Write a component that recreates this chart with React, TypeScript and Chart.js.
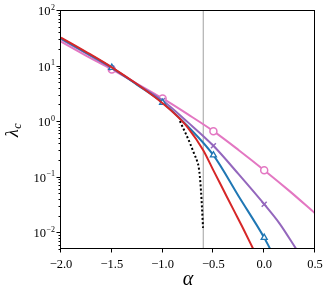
import React, { useEffect, useRef } from "react";
import { Chart, registerables } from "chart.js";

Chart.register(...registerables);

// ---- data ----
const alphaRed = [-2, -1.75, -1.5, -1.25, -1, -0.85, -0.75, -0.6, -0.5, -0.4, -0.3, -0.2, -0.108];
const lambdaRed = [32, 17.5, 9.3, 4.6, 2.1, 1.2, 0.76, 0.3, 0.13, 0.057, 0.025, 0.011, 0.005];

const alphaBlue = [-2, -1.75, -1.5, -1.25, -1, -0.75, -0.5, -0.25, 0, 0.059];
const lambdaBlue = [31, 17, 9.2, 4.5, 2.15, 0.8, 0.244, 0.044, 0.008, 0.005];

const alphaPurple = [-2, -1.75, -1.5, -1.25, -1, -0.75, -0.5, -0.25, 0, 0.15, 0.315];
const lambdaPurple = [30, 16.5, 9, 4.6, 2.35, 0.95, 0.36, 0.11, 0.032, 0.0145, 0.005];

const alphaPink = [-2, -1.75, -1.5, -1.25, -1, -0.75, -0.5, -0.25, 0, 0.25, 0.5];
const lambdaPink = [27, 15, 8.5, 4.7, 2.56, 1.32, 0.66, 0.3, 0.131, 0.055, 0.022];

const alphaDotted = [-0.83, -0.78, -0.73, -0.69, -0.66, -0.645, -0.633, -0.622, -0.612, -0.602];
const lambdaDotted = [1.0, 0.64, 0.4, 0.26, 0.19, 0.15, 0.1, 0.055, 0.027, 0.012];

const alphaVline = [-0.6, -0.6];
const lambdaVline = [0.005, 100];

const markerAlphas = [-1.5, -1, -0.5, 0];

const xTicks = [-2, -1.5, -1, -0.5, 0, 0.5];
const xTickLabels = ["\u22122.0", "\u22121.5", "\u22121.0", "\u22120.5", "0.0", "0.5"];
const yTickExponents = [-2, -1, 0, 1, 2];

const X_MIN = -2;
const X_MAX = 0.5;
const Y_MIN = 0.005;
const Y_MAX = 100;

function pts(xs: number[], ys: number[]) {
  return xs.map((x, i) => ({ x, y: ys[i] }));
}

const SERIF = '"Liberation Serif", "DejaVu Serif", serif';

const decorPlugin = {
  id: "decor",
  afterDraw(chart: any) {
    const { ctx, chartArea: ca, scales } = chart;
    const xs = scales.x;
    const ys = scales.y;
    ctx.save();
    // frame
    ctx.strokeStyle = "#000";
    ctx.lineWidth = 1;
    const l = Math.round(ca.left) - 0.5;
    const r = Math.round(ca.right) - 0.5;
    const t = Math.round(ca.top) + 0.5;
    const b = Math.round(ca.bottom) - 0.5;
    ctx.strokeRect(l, t, r - l, b - t);

    // x ticks
    ctx.beginPath();
    xTicks.forEach((v) => {
      const px = Math.round(xs.getPixelForValue(v)) - 0.5;
      ctx.moveTo(px, b);
      ctx.lineTo(px, b + 4);
    });
    // y ticks major + minor
    for (let d = -3; d <= 2; d++) {
      for (let m = 1; m <= 9; m++) {
        const v = m * Math.pow(10, d);
        if (v < Y_MIN * 0.999 || v > Y_MAX * 1.001) continue;
        const py = Math.round(ys.getPixelForValue(v)) + 0.5;
        ctx.moveTo(l, py);
        ctx.lineTo(l - (m === 1 ? 4 : 2), py);
      }
    }
    ctx.stroke();

    ctx.fillStyle = "#000";
    // x labels
    ctx.font = `12.5px ${SERIF}`;
    ctx.textAlign = "center";
    ctx.textBaseline = "alphabetic";
    xTicks.forEach((v, i) => {
      const px = xs.getPixelForValue(v);
      ctx.fillText(xTickLabels[i], px, ca.bottom + 18.5);
    });

    // y labels 10^e
    yTickExponents.forEach((e) => {
      const py = ys.getPixelForValue(Math.pow(10, e));
      const sup = e < 0 ? "\u2212" + Math.abs(e) : String(e);
      ctx.font = `8px ${SERIF}`;
      const sw = ctx.measureText(sup).width;
      ctx.textAlign = "left";
      const right = 55;
      ctx.fillText(sup, right - sw, py - 0.5);
      ctx.font = `12.5px ${SERIF}`;
      ctx.textAlign = "right";
      ctx.fillText("10", right - sw - 0.5, py + 5);
    });

    // x title
    ctx.font = `italic 20px ${SERIF}`;
    ctx.textAlign = "center";
    ctx.fillText("\u03b1", (ca.left + ca.right) / 2, 285);

    // y title lambda_c rotated
    ctx.save();
    ctx.translate(0, 137);
    ctx.rotate(-Math.PI / 2);
    ctx.textAlign = "left";
    ctx.font = `italic 18px ${SERIF}`;
    ctx.fillText("\u03bb", 0, 18);
    const lw = ctx.measureText("\u03bb").width;
    ctx.font = `italic 12px ${SERIF}`;
    ctx.fillText("c", lw + 0.5, 21);
    ctx.restore();

    ctx.restore();
  },
};

export default function App() {
  const ref = useRef<HTMLCanvasElement | null>(null);
  useEffect(() => {
    if (!ref.current) return;
    const markerRadius = (c: any) => {
      const raw = c.raw;
      return raw && markerAlphas.includes(raw.x) ? 3.5 : 0;
    };
    const chart = new Chart(ref.current, {
      type: "line",
      data: {
        datasets: [
          {
            data: pts(alphaRed, lambdaRed),
            borderColor: "#d62728",
            borderWidth: 2,
            pointRadius: 0,
            cubicInterpolationMode: "monotone",
          },
          {
            data: pts(alphaDotted, lambdaDotted),
            borderColor: "#000",
            borderWidth: 2,
            borderDash: [2, 2.2],
            pointRadius: 0,
            cubicInterpolationMode: "monotone",
          },
          {
            data: pts(alphaBlue, lambdaBlue),
            borderColor: "#1f77b4",
            borderWidth: 2,
            pointRadius: markerRadius,
            pointStyle: "triangle",
            pointBorderColor: "#1f77b4",
            pointBackgroundColor: "#ffffff",
            pointBorderWidth: 1.3,
            cubicInterpolationMode: "monotone",
          },
          {
            data: pts(alphaPurple, lambdaPurple),
            borderColor: "#9467bd",
            borderWidth: 2,
            pointRadius: markerRadius,
            pointStyle: "crossRot",
            pointBorderColor: "#9467bd",
            pointBorderWidth: 1.5,
            cubicInterpolationMode: "monotone",
          },
          {
            data: pts(alphaPink, lambdaPink),
            borderColor: "#e377c2",
            borderWidth: 2,
            pointRadius: markerRadius,
            pointStyle: "circle",
            pointBorderColor: "#e377c2",
            pointBackgroundColor: "#ffffff",
            pointBorderWidth: 1.5,
            cubicInterpolationMode: "monotone",
          },
          {
            data: pts(alphaVline, lambdaVline),
            borderColor: "#a0a0a0",
            borderWidth: 1,
            pointRadius: 0,
          },
        ],
      } as any,
      options: {
        animation: false,
        responsive: false,
        layout: { padding: { left: 61, top: 10, right: 17, bottom: 42 } },
        scales: {
          x: { type: "linear", min: X_MIN, max: X_MAX, display: false },
          y: { type: "logarithmic", min: Y_MIN, max: Y_MAX, display: false },
        },
        plugins: { legend: { display: false }, tooltip: { enabled: false } },
      } as any,
      plugins: [decorPlugin],
    });
    return () => chart.destroy();
  }, []);
  return (
    <div style={{ position: "absolute", left: 0, top: 0, width: 332, height: 291, background: "#fff" }}>
      <canvas ref={ref} width={332} height={291} />
    </div>
  );
}
